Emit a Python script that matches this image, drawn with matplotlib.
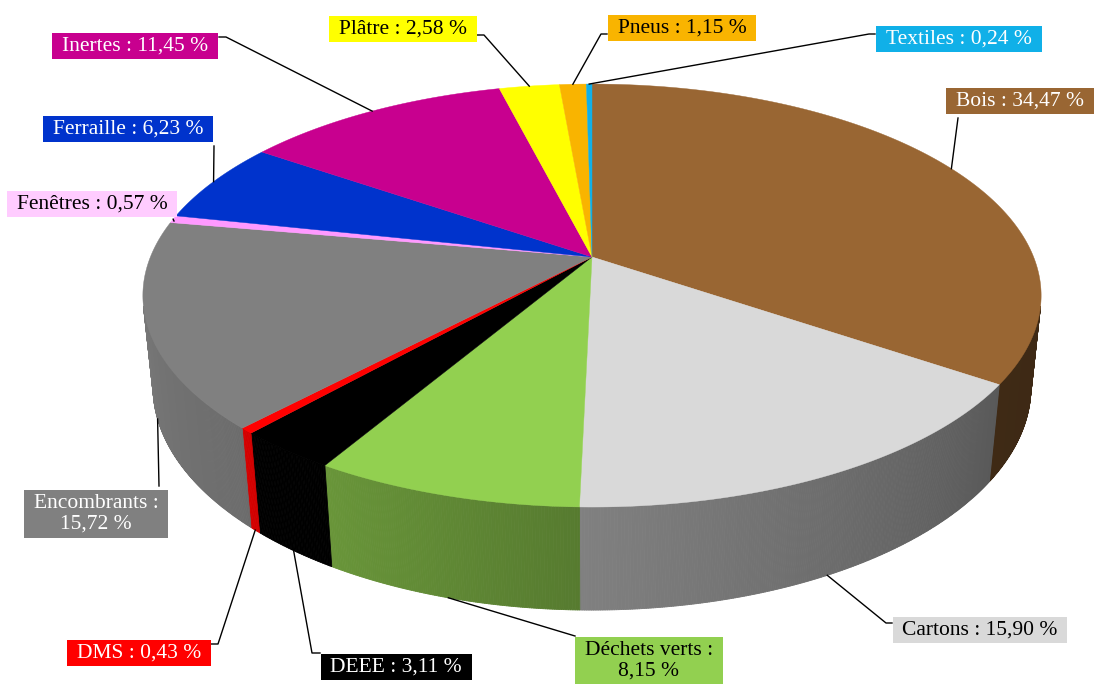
import numpy as np
import matplotlib.pyplot as plt
from matplotlib.collections import PolyCollection
from matplotlib.path import Path
from matplotlib.colors import to_rgb

# data
categories = ["Bois", "Cartons", "Déchets verts", "DEEE", "DMS", "Encombrants",
              "Fenêtres", "Ferraille", "Inertes", "Plâtre", "Pneus", "Textiles"]
shares = [34.47, 15.90, 8.15, 3.11, 0.43, 15.72, 0.57, 6.23, 11.45, 2.58, 1.15, 0.24]

# styles
slice_colors = ["#996633", "#d9d9d9", "#92d050", "#000000", "#ff0000", "#808080",
                "#ff99ff", "#0033cc", "#c8008f", "#ffff00", "#f9b400", "#10b0e8"]
box_colors = ["#996633", "#d9d9d9", "#92d050", "#000000", "#ff0000", "#808080",
              "#ffccff", "#0033cc", "#c8008f", "#ffff00", "#f9b400", "#10b0e8"]
text_colors = ["white", "black", "black", "white", "white", "white",
               "black", "white", "white", "black", "black", "white"]
wrapped = ["Déchets verts", "Encombrants"]

# label layout (pixels): text centre, point on the box, elbow
label_pos = [(1020, 101), (980, 630), (649, 661), (396, 667), (139, 653), (96, 514),
             (92, 204), (128, 129), (135, 46), (403, 29), (682, 28), (959, 39)]
box_pts = [(958, 118), (892, 623), (575, 636), (320, 653), (211, 644), (159, 486),
           (174, 221), (214, 146), (219, 37), (477, 35), (607, 34), (875, 34)]
elbows = [(958, 118), (886, 623), (575, 636), (312, 653), (218, 644), (159, 486),
          (174, 221), (214, 146), (226, 37), (484, 35), (601, 34), (869, 34)]

# perspective camera for the 3d pie
X0, Y0 = 592, 257
F, D, H = 2148, 4.864, 0.2355
phi = np.arcsin(0.463)
sp, cp = np.sin(phi), np.cos(phi)


def project(theta, r=1.0, z=0.0):
    t = np.radians(theta)
    u, v = r * np.sin(t), r * np.cos(t)
    depth = D + v * cp - z * sp
    return X0 + F * u / depth, Y0 - F * (v * sp + z * cp) / depth


def shade(theta):
    return np.interp(theta, [100, 124, 181, 211, 225, 257],
                     [0.40, 0.41, 0.59, 0.72, 0.85, 0.93])


def label_box(x0, y0, width, height, mutation_size):
    px, py = 0.45 * mutation_size, 0.18 * mutation_size
    x0, y0 = x0 - px, y0 - py
    x1, y1 = x0 + width + 2 * px, y0 + height + 2 * py
    return Path([(x0, y0), (x1, y0), (x1, y1), (x0, y1), (x0, y0)], closed=True)


fig = plt.figure(figsize=(10.96, 6.84), dpi=100)
ax = fig.add_axes([0, 0, 1, 1])
ax.set_xlim(0, 1096)
ax.set_ylim(684, 0)
ax.axis("off")

cum = np.cumsum([0] + shares) / sum(shares) * 360
starts, ends = cum[:-1], cum[1:]
th_lo = np.degrees(np.arccos(-1 / (D * cp)))
th_hi = 360 - th_lo

# side of the pie
polys, fcs = [], []
for a, b, col in zip(starts, ends, slice_colors):
    a, b = max(a, th_lo), min(b, th_hi)
    if a >= b:
        continue
    ts = np.linspace(a, b, max(2, int((b - a) / 0.25) + 1))
    for t1, t2 in zip(ts[:-1], ts[1:]):
        xa, ya = project(t1)
        xb, yb = project(t2)
        xc, yc = project(t2, z=-H)
        xd, yd = project(t1, z=-H)
        polys.append([(xa, ya), (xb, yb), (xc, yc), (xd, yd)])
        fcs.append(np.array(to_rgb(col)) * shade((t1 + t2) / 2))
ax.add_collection(PolyCollection(polys, facecolors=fcs, edgecolors=fcs,
                                 linewidths=0.6, zorder=1))

# top of the pie
for a, b, col in zip(starts, ends, slice_colors):
    ts = np.linspace(a, b, max(3, int((b - a) / 0.5) + 2))
    xs, ys = project(ts)
    ax.fill(np.r_[X0, xs], np.r_[Y0, ys], fc=col, ec=col, lw=0.3, zorder=2)

# labels and leaders
for i, name in enumerate(categories):
    mid = (starts[i] + ends[i]) / 2
    if np.cos(np.radians(mid)) < -1 / (D * cp):
        ax_, ay_ = project(mid, z=-H)
    else:
        ax_, ay_ = project(mid)
    bx, by = box_pts[i]
    ex, ey = elbows[i]
    ax.plot([bx, ex, ax_], [by, ey, ay_], color="black", lw=1, zorder=3)

    value = f"{shares[i]:.2f}".replace(".", ",") + " %"
    sep = " :\n" if name in wrapped else " : "
    ax.text(label_pos[i][0], label_pos[i][1], name + sep + value,
            ha="center", va="center", fontsize=15.5, family="Liberation Serif",
            color=text_colors[i], linespacing=1.1, zorder=4,
            bbox=dict(boxstyle=label_box, fc=box_colors[i], ec="none"))

fig.savefig("out.png", dpi=100)
